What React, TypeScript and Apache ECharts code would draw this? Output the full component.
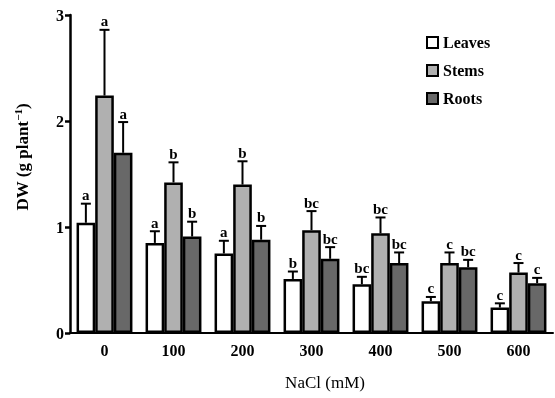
import React, { useEffect, useRef } from "react";
import * as echarts from "echarts";

const categories = ["0", "100", "200", "300", "400", "500", "600"];
const seriesNames = ["Leaves", "Stems", "Roots"];
const leaves = [1.04, 0.85, 0.75, 0.51, 0.46, 0.3, 0.24];
const leavesErr = [0.18, 0.11, 0.12, 0.07, 0.07, 0.04, 0.04];
const leavesLetters = ["a", "a", "a", "b", "bc", "c", "c"];
const stems = [2.24, 1.42, 1.4, 0.97, 0.94, 0.66, 0.57];
const stemsErr = [0.62, 0.19, 0.22, 0.18, 0.15, 0.1, 0.09];
const stemsLetters = ["a", "b", "b", "bc", "bc", "c", "c"];
const roots = [1.7, 0.91, 0.88, 0.7, 0.66, 0.62, 0.47];
const rootsErr = [0.29, 0.14, 0.13, 0.11, 0.1, 0.07, 0.05];
const rootsLetters = ["a", "b", "b", "bc", "bc", "bc", "c"];
const yTicks = [0, 1, 2, 3];

const colors = ["#ffffff", "#b0b0b0", "#686868"];
const FONT = "'Liberation Serif', 'Times New Roman', serif";
const CAT_GAP = 0.19;

export default function App() {
  const ref = useRef<HTMLDivElement>(null);
  useEffect(() => {
    if (!ref.current) return;
    const chart = echarts.init(ref.current, null, { renderer: "svg" });
    const vals = [leaves, stems, roots];
    const errs = [leavesErr, stemsErr, rootsErr];
    const letters = [leavesLetters, stemsLetters, rootsLetters];

    const barSeries = seriesNames.map((name, i) => ({
      name,
      type: "bar",
      data: vals[i],
      barGap: "0%",
      barCategoryGap: CAT_GAP * 100 + "%",
      itemStyle: { color: colors[i], borderColor: "#000", borderWidth: 2.5 },
      z: 2,
    }));

    const errSeries = seriesNames.map((name, i) => ({
      name: name + "_err",
      type: "custom",
      z: 3,
      data: vals[i].map((v, j) => [j, v, errs[i][j], j]),
      encode: { x: 0, y: 1 },
      renderItem: (params: any, api: any) => {
        const idx = api.value(0);
        const v = api.value(1);
        const e = api.value(2);
        const j = api.value(3);
        const band = api.size([1, 0])[0];
        const barW = (band * (1 - CAT_GAP)) / 3;
        const cx = api.coord([idx, 0])[0] + (i - 1) * barW;
        const top = api.coord([idx, v])[1];
        const et = api.coord([idx, v + e])[1];
        const st = { stroke: "#000", lineWidth: 2 };
        return {
          type: "group",
          children: [
            { type: "line", shape: { x1: cx, y1: top, x2: cx, y2: et }, style: st },
            { type: "line", shape: { x1: cx - 5, y1: et, x2: cx + 5, y2: et }, style: st },
            {
              type: "text",
              x: cx,
              y: et - 1,
              style: {
                text: letters[i][j],
                fill: "#000",
                font: "bold 15px " + FONT,
                align: "center",
                verticalAlign: "bottom",
              },
            },
          ],
        };
      },
    }));

    chart.setOption({
      animation: false,
      color: colors,
      grid: { left: 70, right: 2, top: 15, bottom: 65 },
      legend: {
        data: seriesNames,
        orient: "vertical",
        icon: "rect",
        left: 421,
        top: 29,
        itemWidth: 11,
        itemHeight: 11,
        itemGap: 11,
        textStyle: {
          fontFamily: FONT,
          fontWeight: "bold",
          fontSize: 16,
          lineHeight: 17,
          color: "#000",
        },
      },
      xAxis: {
        type: "category",
        data: categories,
        axisLine: { lineStyle: { color: "#000", width: 2 } },
        axisTick: { show: false },
        axisLabel: {
          fontFamily: FONT,
          fontWeight: "bold",
          fontSize: 16,
          color: "#000",
          margin: 9,
        },
      },
      yAxis: {
        type: "value",
        min: yTicks[0],
        max: yTicks[yTicks.length - 1],
        interval: 1,
        axisLine: { show: true, lineStyle: { color: "#000", width: 2.5 } },
        axisTick: { show: true, length: 5, lineStyle: { color: "#000", width: 2.5 } },
        splitLine: { show: false },
        axisLabel: {
          fontFamily: FONT,
          fontWeight: "bold",
          fontSize: 16,
          color: "#000",
          margin: 6,
        },
      },
      graphic: [
        {
          type: "text",
          x: 22,
          y: 157,
          rotation: Math.PI / 2,
          style: {
            text: "{a|DW (g plant}{s|−1}{a|)}",
            align: "center",
            verticalAlign: "middle",
            rich: {
              a: { fontFamily: FONT, fontWeight: "bold", fontSize: 17, fill: "#000", color: "#000" },
              s: {
                fontFamily: FONT,
                fontWeight: "bold",
                fontSize: 11,
                fill: "#000",
                color: "#000",
                padding: [0, 0, 9, 0],
              },
            },
          },
        },
        {
          type: "text",
          x: 325,
          y: 382,
          style: {
            text: "NaCl (mM)",
            font: "17px " + FONT,
            fill: "#000",
            align: "center",
            verticalAlign: "middle",
          },
        },
      ],
      series: [...barSeries, ...errSeries],
    });
    return () => chart.dispose();
  }, []);
  return (
    <div
      ref={ref}
      style={{ position: "fixed", left: 0, top: 0, width: 555, height: 398 }}
    />
  );
}

export {};
